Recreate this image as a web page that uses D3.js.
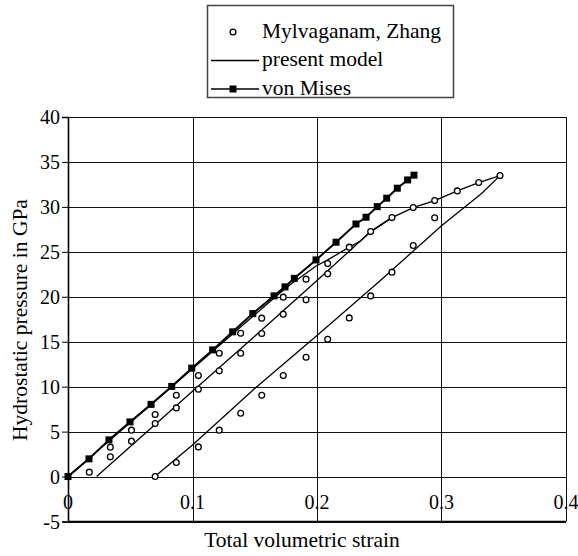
<!DOCTYPE html>
<html>
<head>
<meta charset="utf-8">
<script src="https://cdn.jsdelivr.net/npm/d3@7"></script>
<style>
  body { margin: 0; background: #fff; }
  svg text { font-family: "Liberation Serif", "DejaVu Serif", "Times New Roman", serif; fill: #000; }
</style>
</head>
<body>
<script>
// measured points (volumetric strain, pressure GPa)
const experiment = [
    // upper branch
    [0.034, 3.27], [0.051, 5.16], [0.07, 6.9], [0.087, 9.05], [0.1047, 11.23],
    [0.1215, 13.72], [0.1387, 15.95], [0.1556, 17.62], [0.1729, 19.96], [0.1912, 21.96],
    [0.2086, 23.69], [0.2259, 25.52], [0.2431, 27.25], [0.2602, 28.81], [0.2773, 29.92],
    [0.2945, 30.7], [0.3127, 31.78], [0.3299, 32.7], [0.347, 33.48],
    // middle branch
    [0.0171, 0.49], [0.034, 2.19], [0.051, 3.94], [0.07, 5.9], [0.087, 7.64],
    [0.1047, 9.72], [0.1215, 11.76], [0.1387, 13.72], [0.1556, 15.91], [0.1729, 18.07],
    [0.1912, 19.66], [0.2086, 22.55],
    // lower branch
    [0.07, 0], [0.087, 1.56], [0.1047, 3.3], [0.1215, 5.16], [0.1387, 7.05],
    [0.1556, 9.05], [0.1729, 11.23], [0.1912, 13.28], [0.2086, 15.28], [0.2259, 17.65],
    [0.2431, 20.1], [0.2602, 22.74], [0.2773, 25.7], [0.2945, 28.78]
];

// present model: loading curve and two unloading lines
const modelLoading = [
    [0, 0], [0.05, 6.0], [0.1, 12.0], [0.15, 18.0], [0.17, 20.4], [0.18, 21.5],
    [0.199, 23.4], [0.2086, 24.1], [0.2259, 25.52], [0.235, 26.2], [0.2431, 27.25],
    [0.2602, 28.81], [0.2773, 29.92], [0.2945, 30.7], [0.3127, 31.78], [0.3299, 32.7],
    [0.347, 33.48]
];
const modelUnload1 = [
    [0.023, 0], [0.1, 9.5], [0.15, 15.6], [0.2, 21.8], [0.2431, 27.25], [0.2602, 28.81]
];
const modelUnload2 = [
    [0.0698, 0], [0.1, 3.5], [0.15, 9.8], [0.2, 15.7], [0.25, 21.7], [0.3, 27.9],
    [0.3322, 31.5], [0.347, 33.48]
];

const vonMises = [
    [0, 0], [0.0169, 1.97], [0.0329, 4.08], [0.0498, 6.08], [0.0667, 8.03],
    [0.0833, 10.03], [0.0994, 12.06], [0.1162, 14.09], [0.1323, 16.1], [0.1484, 18.13],
    [0.1655, 20.1], [0.1743, 21.1], [0.1818, 22.05], [0.1992, 24.1], [0.2153, 26.07],
    [0.2313, 28.1], [0.2394, 28.85], [0.2484, 30.03], [0.256, 30.97], [0.2645, 32.08],
    [0.2728, 33.0], [0.2779, 33.53]
];

const xTicks = [0, 0.1, 0.2, 0.3, 0.4];
const yTicks = [-5, 0, 5, 10, 15, 20, 25, 30, 35, 40];
const legendLabels = ["Mylvaganam, Zhang", "present model", "von Mises"];

const width = 578, height = 556;

const svg = d3.select("body").append("svg")
    .attr("width", width)
    .attr("height", height);

const x = d3.scaleLinear().domain([0, 0.4]).range([68, 566]);
const y = d3.scaleLinear().domain([-5, 40]).range([521.5, 117]);

const px = v => Math.round(v) + 0.5;

// grid
svg.append("g").selectAll("line")
    .data(yTicks)
    .enter().append("line")
    .attr("x1", x(0)).attr("x2", x(0.4))
    .attr("y1", d => px(y(d))).attr("y2", d => px(y(d)))
    .attr("stroke", "#111").attr("stroke-width", 1);

// x tick labels sit under the zero line, gridlines run through them
svg.append("g").selectAll("text")
    .data(xTicks)
    .enter().append("text")
    .attr("x", d => x(d))
    .attr("y", y(0) + 32)
    .attr("text-anchor", "middle")
    .style("font-size", "20px")
    .text(d => d === 0 ? "0" : d3.format(".1f")(d));

svg.append("g").selectAll("line")
    .data(xTicks.slice(1))
    .enter().append("line")
    .attr("x1", d => px(x(d))).attr("x2", d => px(x(d)))
    .attr("y1", y(40)).attr("y2", y(-5))
    .attr("stroke", "#111").attr("stroke-width", 1);

// left axis with outward ticks
const yAxis = d3.axisLeft(y).tickValues(yTicks).tickSize(6).tickPadding(2)
    .tickFormat(d => String(d));
const gy = svg.append("g")
    .attr("transform", `translate(${x(0)},0)`)
    .call(yAxis);
gy.attr("font-family", null).attr("font-size", null);
gy.select(".domain").attr("stroke", "#000").attr("stroke-width", 1.6);
gy.selectAll(".tick line").attr("stroke", "#000");
gy.selectAll(".tick text")
    .style("font-size", "20px")
    .attr("dy", "0.34em");

// bottom frame line
svg.append("line")
    .attr("x1", x(0)).attr("x2", x(0.4))
    .attr("y1", y(-5)).attr("y2", y(-5))
    .attr("stroke", "#000").attr("stroke-width", 1.6);

const line = d3.line().x(d => x(d[0])).y(d => y(d[1]));

// present model
[modelLoading, modelUnload1, modelUnload2].forEach(s => {
    svg.append("path")
        .attr("d", line(s))
        .attr("fill", "none")
        .attr("stroke", "#000")
        .attr("stroke-width", 1.3);
});

// von Mises
svg.append("path")
    .attr("d", line(vonMises))
    .attr("fill", "none")
    .attr("stroke", "#000")
    .attr("stroke-width", 2);

svg.append("g").selectAll("rect")
    .data(vonMises)
    .enter().append("rect")
    .attr("x", d => x(d[0]) - 3.5)
    .attr("y", d => y(d[1]) - 3.5)
    .attr("width", 7).attr("height", 7)
    .attr("fill", "#000");

// experiment
svg.append("g").selectAll("circle")
    .data(experiment)
    .enter().append("circle")
    .attr("cx", d => x(d[0]))
    .attr("cy", d => y(d[1]))
    .attr("r", 2.9)
    .attr("fill", "#fff")
    .attr("stroke", "#000")
    .attr("stroke-width", 1.3);

// axis titles
svg.append("text")
    .attr("x", 302).attr("y", 547)
    .attr("text-anchor", "middle")
    .style("font-size", "21.5px")
    .text("Total volumetric strain");

svg.append("text")
    .attr("transform", "translate(27,320) rotate(-90)")
    .attr("text-anchor", "middle")
    .style("font-size", "21.5px")
    .text("Hydrostatic pressure in GPa");

// legend
const legend = svg.append("g");
legend.append("rect")
    .attr("x", 207.5).attr("y", 5.5)
    .attr("width", 246).attr("height", 92)
    .attr("fill", "#fff")
    .attr("stroke", "#444").attr("stroke-width", 1.5);

const rowY = [32, 60.5, 89];
legend.selectAll("text")
    .data(legendLabels)
    .enter().append("text")
    .attr("x", 262)
    .attr("y", (d, i) => rowY[i] + 5.5)
    .style("font-size", "21.5px")
    .text(d => d);

legend.append("circle")
    .attr("cx", 233).attr("cy", rowY[0])
    .attr("r", 2.9)
    .attr("fill", "#fff").attr("stroke", "#000").attr("stroke-width", 1.3);

legend.append("line")
    .attr("x1", 211).attr("x2", 259)
    .attr("y1", rowY[1]).attr("y2", rowY[1])
    .attr("stroke", "#000").attr("stroke-width", 1.3);

legend.append("line")
    .attr("x1", 211).attr("x2", 259)
    .attr("y1", rowY[2]).attr("y2", rowY[2])
    .attr("stroke", "#000").attr("stroke-width", 1.3);

legend.append("rect")
    .attr("x", 229.5).attr("y", rowY[2] - 3.5)
    .attr("width", 7).attr("height", 7)
    .attr("fill", "#000");
</script>
</body>
</html>
